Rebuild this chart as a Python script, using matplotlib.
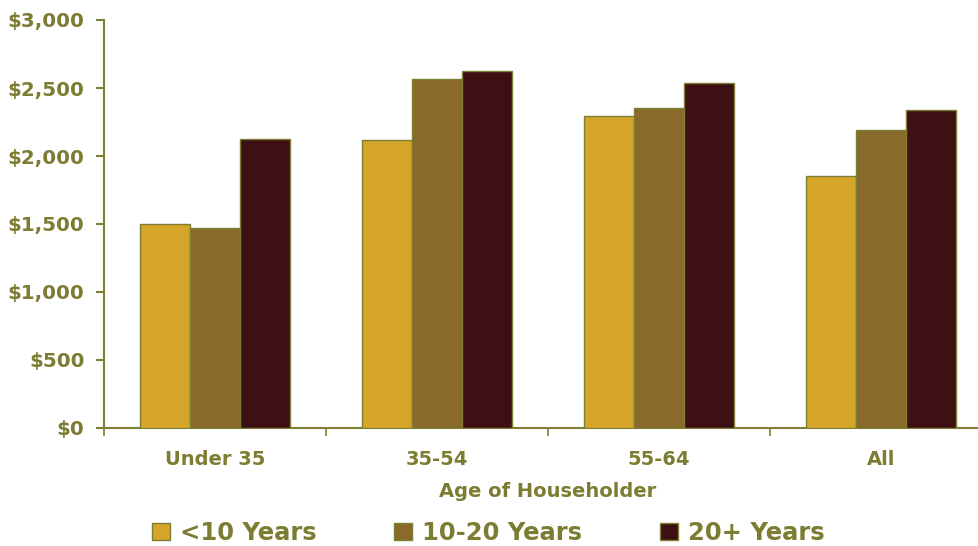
import matplotlib
matplotlib.use("Agg")
import matplotlib.pyplot as plt
import numpy as np
from matplotlib.ticker import FuncFormatter, FixedLocator

categories = ["Under 35", "35-54", "55-64", "All"]
series_names = ["<10 Years", "10-20 Years", "20+ Years"]
under_10 = [1500, 2118, 2292, 1853]
ten_to_20 = [1470, 2564, 2351, 2189]
over_20 = [2125, 2627, 2534, 2338]
y_ticks = [0, 500, 1000, 1500, 2000, 2500, 3000]

colors = ["#D4A528", "#8A6A2A", "#3D1013"]
edge = "#7E7E34"
text_color = "#7C7C32"

plt.rcParams["font.family"] = "DejaVu Sans"
plt.rcParams["font.weight"] = "bold"

fig = plt.figure(figsize=(9.79, 5.46), dpi=100)
ax = fig.add_axes([104 / 979, 1 - 428 / 546, 888 / 979, 408 / 546])

x = np.arange(len(categories))
bar_w = 0.224
for i, (vals, name) in enumerate(zip([under_10, ten_to_20, over_20], series_names)):
    ax.bar(x + (i - 1) * bar_w, vals, width=bar_w, color=colors[i],
           edgecolor=edge, linewidth=1.0, label=name, zorder=3)

ax.set_xlim(-0.5, len(categories) - 0.5)
ax.set_ylim(0, 3000)

ax.yaxis.set_major_locator(FixedLocator(y_ticks))
ax.yaxis.set_major_formatter(FuncFormatter(lambda v, p: f"${v:,.0f}"))
ax.tick_params(axis="y", colors=edge, labelcolor=text_color, labelsize=14.3,
               length=6, width=1.5, direction="out", pad=8)

# category boundary ticks, labels centred under each group
ax.set_xticks(np.arange(len(categories) + 1) - 0.5)
ax.set_xticklabels([])
ax.set_xticks(x, minor=True)
ax.set_xticklabels(categories, minor=True)
ax.tick_params(axis="x", which="major", colors=edge, length=6, width=1.2, direction="out")
ax.tick_params(axis="x", which="minor", length=0, labelcolor=text_color, labelsize=14, pad=16)

for s in ["top", "right"]:
    ax.spines[s].set_visible(False)
for s in ["left", "bottom"]:
    ax.spines[s].set_color(edge)
    ax.spines[s].set_linewidth(1.5)

ax.set_xlabel("Age of Householder", color=text_color, fontsize=14,
              fontweight="bold")
ax.xaxis.set_label_coords((548 - 104) / 888, -0.132)

leg = fig.legend(loc="center", bbox_to_anchor=(488 / 979, 1 - 533 / 546), ncol=3,
                 frameon=False, fontsize=17.5, handlelength=0.75, handleheight=0.75,
                 handletextpad=0.4, columnspacing=3.2, labelcolor=text_color)
for t in leg.get_texts():
    t.set_fontweight("bold")

fig.savefig("out.png", dpi=100)
